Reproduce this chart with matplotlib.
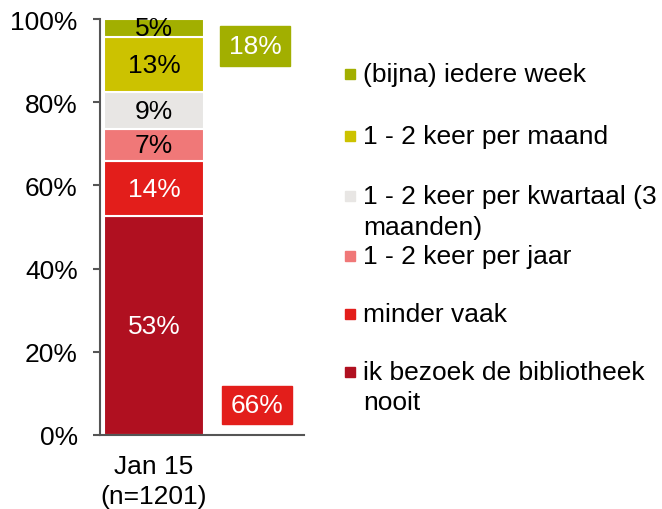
import matplotlib
matplotlib.use('Agg')
import matplotlib.pyplot as plt
from matplotlib.patches import Rectangle

plt.rcParams['font.family'] = ['Liberation Sans', 'DejaVu Sans']

# data, bottom to top
categories = ['ik bezoek de bibliotheek\nnooit', 'minder vaak', '1 - 2 keer per jaar',
              '1 - 2 keer per kwartaal (3\nmaanden)', '1 - 2 keer per maand', '(bijna) iedere week']
values = [52.6, 13.3, 7.6, 8.9, 13.3, 4.3]
seg_labels = ['53%', '14%', '7%', '9%', '13%', '5%']
colors = ['#B01020', '#E31E1B', '#F07878', '#E8E6E4', '#CCC200', '#A2AF00']
label_colors = ['white', 'white', 'black', 'black', 'black', 'black']
period = 'Jan 15\n(n=1201)'
top_total = '18%'
bottom_total = '66%'

W, H = 662, 510
fig = plt.figure(figsize=(W / 100, H / 100), dpi=100)

def fx(px):
    return px / W

def fy(py):
    return 1 - py / H

ax = fig.add_axes([fx(100), fy(436), fx(204), 416 / H])

bottom = 0
for v, lab, c, tc in zip(values, seg_labels, colors, label_colors):
    ax.bar(0, v, width=1.0, bottom=bottom, color=c, edgecolor='white', linewidth=1.5)
    ax.text(0, bottom + v / 2, lab, ha='center', va='center', color=tc, fontsize=19)
    bottom += v

# summary boxes
ax.add_patch(Rectangle((1.01 - 0.35, 93.5 - 4.8), 0.70, 9.6, color=colors[5], clip_on=False))
ax.text(1.01, 93.5, top_total, ha='center', va='center', color='white', fontsize=19)
ax.add_patch(Rectangle((1.03 - 0.35, 7.2 - 4.5), 0.70, 9.0, color=colors[1], clip_on=False))
ax.text(1.03, 7.2, bottom_total, ha='center', va='center', color='white', fontsize=19)

ax.set_xlim(-0.54, 1.50)
ax.set_ylim(0, 100)
ax.set_yticks([0, 20, 40, 60, 80, 100])
ax.set_yticklabels(['0%', '20%', '40%', '60%', '80%', '100%'], fontsize=19)
ax.set_xticks([0])
ax.set_xticklabels([period], fontsize=19, linespacing=1.3)
ax.tick_params(axis='x', length=0, pad=14)
ax.tick_params(axis='y', length=5, width=1.5, color='#555555', pad=11)
for s in ['top', 'right']:
    ax.spines[s].set_visible(False)
for s in ['left', 'bottom']:
    ax.spines[s].set_color('#555555')
    ax.spines[s].set_linewidth(1.5)

# legend, drawn by hand (top entry first)
legend_rows = [[75], [137], [197, 228], [257], [315], [373, 403]]
for i, rows in enumerate(legend_rows):
    k = len(categories) - 1 - i
    fig.add_artist(Rectangle((fx(345), fy(rows[0] + 5)), fx(10), 10 / H,
                             color=colors[k], transform=fig.transFigure))
    for line, y in zip(categories[k].split('\n'), rows):
        fig.text(fx(363), fy(y), line, ha='left', va='center', fontsize=19, color='black')

fig.savefig('out.png', dpi=100)
